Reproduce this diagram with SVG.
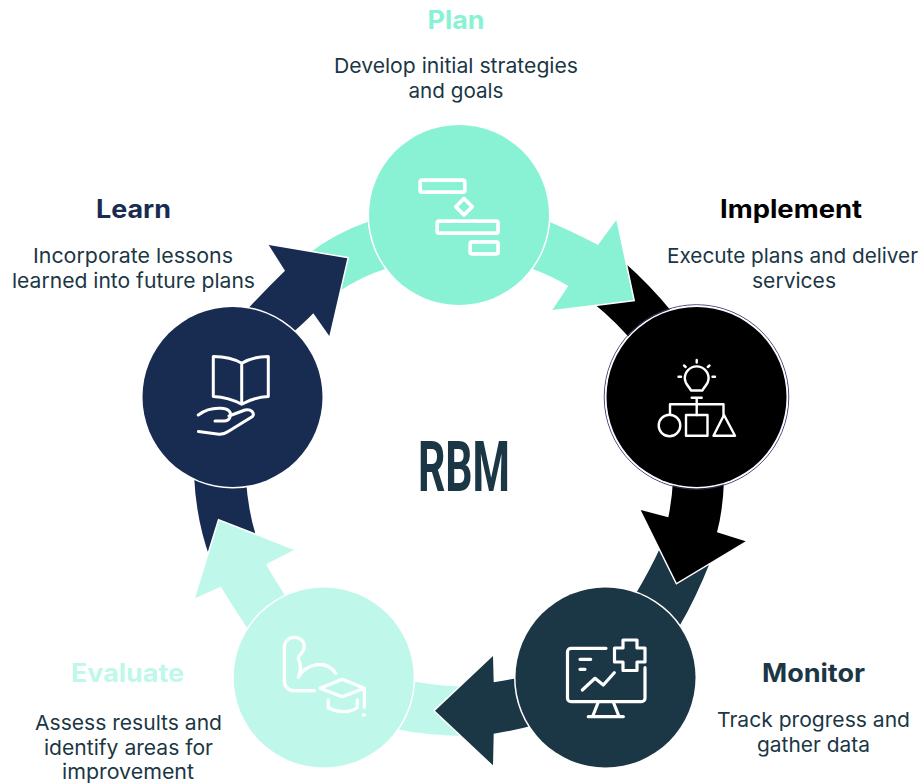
<svg xmlns="http://www.w3.org/2000/svg" width="923" height="784" viewBox="0 0 923 784">
<style>
text{font-family:"Inter","Liberation Sans",sans-serif;text-anchor:middle}
.t{font-size:25px;font-weight:700}
.b{font-size:20.5px;fill:#1B3644}
.a{stroke:#fff;stroke-width:3;stroke-linejoin:miter;paint-order:stroke}
.c{stroke:#fff;stroke-width:3;paint-order:stroke}
.i{fill:none;stroke:#fff;stroke-linecap:round;stroke-linejoin:round}
.plan{fill:#8AF2D4}.impl{fill:#000}.mon{fill:#1B3644}.eval{fill:#BFF8EA}.learn{fill:#182C51}
</style>
<rect width="923" height="784" fill="#fff"/>
<g id="connectors">
<path id="tail-plan" class="a plan" d="M308,254Q335,233 370,221L388,268Q362,276 338,292Z"/>
<path id="tail-implement" class="a impl" d="M625,263Q650,285 672,312L635,345Q620,325 592,302Z"/>
<path id="tail-monitor" class="a mon" d="M661,546Q650,570 635,595L680,625Q695,600 711,560Z"/>
<path id="tail-evaluate" class="a eval" d="M462,686.500Q440,686 410,681L395,729Q425,735 462,736Z"/>
<path id="tail-learn" class="a learn" d="M194,475Q196,520 210,558L256,536Q248,510 246,480Z"/>
<path id="head-plan" class="a plan" d="M540,218Q570,230 598,245L616.300,220 633.300,300 552.300,310 568.300,286Q552,276 530,268Z"/>
<path id="head-implement" class="a impl" d="M673,480Q672,500 668.300,517.300L640.700,510 676.700,582.700 745.700,541.300 717,532.300Q723,510 724,480Z"/>
<path id="head-monitor" class="a mon" d="M520,678Q505,680 493.700,682.300L493,656 435,710.700 493,765.300 493.700,733.700Q512,731 535,725Z"/>
<path id="head-evaluate" class="a eval" d="M250,632Q235,610 220.700,586.700L195,598.300 219,520.700 294,550 266,564.300Q275,580 288,600Z"/>
<path id="head-learn" class="a learn" d="M245,312Q265,290 285,270.700L268.700,245 347.300,258.300 329.300,336 313.300,313.300Q305,322 290,335Z"/>
</g>
<g id="node-plan">
<circle class="c plan" cx="459" cy="215" r="90"/>
<g class="i" stroke-width="3.700">
<rect x="420.200" y="180.200" width="44.600" height="12" rx="2"/>
<path d="M464,198.500L472.200,206.700 464,214.900 455.800,206.700Z"/>
<rect x="437.200" y="221.200" width="60.900" height="12" rx="2"/>
<rect x="470.200" y="241.900" width="27.900" height="12" rx="2"/>
</g>
<text class="t" x="456" y="29" fill="#8AF2D4" textLength="57" lengthAdjust="spacingAndGlyphs">Plan</text>
<text class="b" x="456" y="73" textLength="244" lengthAdjust="spacingAndGlyphs">Develop initial strategies</text>
<text class="b" x="456" y="98" textLength="95" lengthAdjust="spacingAndGlyphs">and goals</text>
</g>
<g id="node-implement">
<circle cx="696.500" cy="397" r="92.300" fill="none" stroke="#3A3570" stroke-width="0.900"/>
<circle class="c impl" cx="696.500" cy="397" r="90"/>
<g class="i" stroke-width="2.400">
<path d="M691,390.500C689,386 684.800,384.500 684.800,378.300A11.900,11.900 0 0 1 708.600,378.300C708.600,384.500 704.400,386 702.400,390.500Z"/>
<path d="M696.700,360V362.500M684,365.500L685.700,367M709.500,365.500L707.800,367M678.500,376.700H681M712.500,376.700H715"/>
<path d="M691.700,397.700H701.700M696.700,397.700V415M670,415V404.300H723.500V415"/>
<circle cx="669.500" cy="425.500" r="10.800"/>
<rect x="686" y="415" width="21.500" height="20.700"/>
<path d="M724,415L735,435.700H713.500Z"/>
</g>
<text class="t" x="791" y="218" fill="#000" textLength="142" lengthAdjust="spacingAndGlyphs">Implement</text>
<text class="b" x="792.500" y="263" textLength="251" lengthAdjust="spacingAndGlyphs">Execute plans and deliver</text>
<text class="b" x="794" y="288" textLength="84" lengthAdjust="spacingAndGlyphs">services</text>
</g>
<g id="node-monitor">
<circle class="c mon" cx="605.500" cy="677.500" r="90"/>
<g class="i" stroke-width="3.200">
<path d="M606,648.300H571A3.500,3.500 0 0 0 567.500,651.800V698.200A3.500,3.500 0 0 0 571,701.700H641.500A3.500,3.500 0 0 0 645,698.200V667.700"/>
<path d="M623,640H637V648H645V662H637V670.500H623V662H614.500V648H623Z"/>
<path d="M580,659.300H590.700M580,669.300H585"/>
<path d="M582.300,690L595,678.300 603.300,685 614.300,672.700"/>
<path d="M598.300,702L592.800,716M613.300,702L618.800,716M588.300,716.700H623.300"/>
</g>
<text class="t" x="813.500" y="682" fill="#1B3644" textLength="103" lengthAdjust="spacingAndGlyphs">Monitor</text>
<text class="b" x="813.500" y="727" textLength="193" lengthAdjust="spacingAndGlyphs">Track progress and</text>
<text class="b" x="813.500" y="752" textLength="113" lengthAdjust="spacingAndGlyphs">gather data</text>
</g>
<g id="node-evaluate">
<circle class="c eval" cx="323.700" cy="677.500" r="90"/>
<g class="i" stroke-width="3.300">
<path d="M314.300,690.700H294A9.500,9.500 0 0 1 284.400,681.200V647A9.700,9.700 0 0 1 294,637.300C302,637.300 306,644 303.500,650C302,654 298,655 298.300,658.500C301,664 301,671 298.300,677.300C305,665 325,658 335.700,673.300"/>
<path d="M320,688.300L342.300,679.300 364.300,688.300 342.300,696.700Z"/>
<path d="M328.300,700V707.500C338,713 350,713 357.300,707.500V700"/>
<path d="M364.300,688.300V707M363.300,715H364.300"/>
</g>
<text class="t" x="127.500" y="682" fill="#BFF8EA" textLength="113" lengthAdjust="spacingAndGlyphs">Evaluate</text>
<text class="b" x="128.500" y="730" textLength="187" lengthAdjust="spacingAndGlyphs">Assess results and</text>
<text class="b" x="128.500" y="755" textLength="169" lengthAdjust="spacingAndGlyphs">identify areas for</text>
<text class="b" x="128" y="779" textLength="132" lengthAdjust="spacingAndGlyphs">improvement</text>
</g>
<g id="node-learn">
<circle class="c learn" cx="232.500" cy="397" r="90"/>
<g class="i" stroke-width="3">
<path d="M241.700,404.300V363.300C233,358 223,356.500 213.300,356.500V396.500C223,397 233,399.500 241.700,404.300C250,399.500 259,397 268.300,396.500V356.500C259,356.500 250,358 241.700,363.300"/>
<path d="M198.300,415C205,410 212,408 220,408.300C228,408 232,412 230,417C229,420 227,421 224,421H215M229,416L245,410C251,408.500 255,413 252.500,416.500L229,431C226,433 223,434.500 219,434.300L198.500,431.500"/>
</g>
<text class="t" x="133.500" y="218" fill="#182C51" textLength="75" lengthAdjust="spacingAndGlyphs">Learn</text>
<text class="b" x="133" y="263" textLength="200" lengthAdjust="spacingAndGlyphs">Incorporate lessons</text>
<text class="b" x="133.500" y="288" textLength="243" lengthAdjust="spacingAndGlyphs">learned into future plans</text>
</g>
<g id="center">
<text x="464" y="491" font-size="70" font-weight="700" style="font-family:Roboto,'Liberation Sans',sans-serif" fill="#1B3644" textLength="92" lengthAdjust="spacingAndGlyphs">RBM</text>
</g>
</svg>
